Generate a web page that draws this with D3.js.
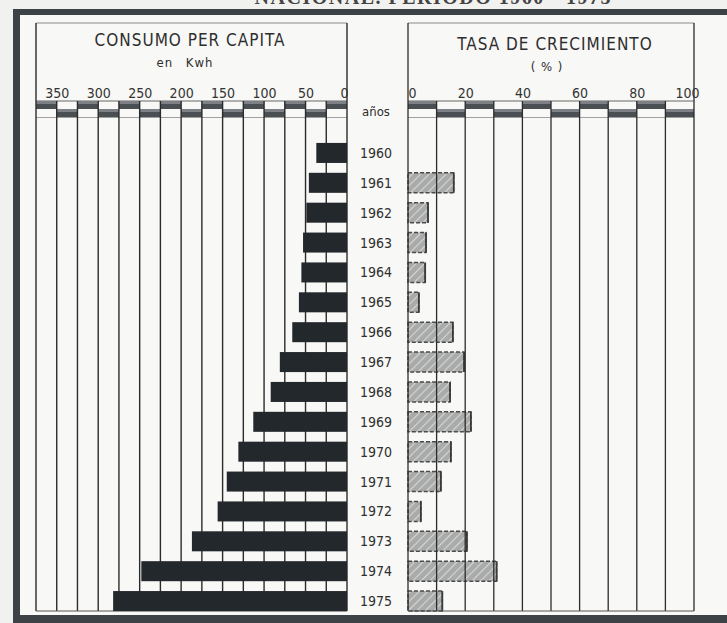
<!DOCTYPE html>
<html>
<head>
<meta charset="utf-8">
<script src="https://cdn.jsdelivr.net/npm/d3@7"></script>
<style>
  html, body { margin: 0; padding: 0; background: #f1f1ef; }
  svg { display: block; }
  text { font-family: "Liberation Sans Narrow", "DejaVu Sans Condensed", "Roboto", sans-serif; fill: #2e2e2e; }
</style>
</head>
<body>
<script>
// ---- data ----
const years = [1960, 1961, 1962, 1963, 1964, 1965, 1966, 1967, 1968, 1969, 1970, 1971, 1972, 1973, 1974, 1975];
const consumo = [37, 46, 49, 53, 55, 58, 66, 81, 92, 113, 131, 145, 156, 187, 248, 282];
const tasa = [0, 16, 7, 6.3, 6, 3.8, 15.7, 19.6, 14.7, 22, 15, 11.5, 4.5, 20.6, 31, 12];
const consumoTicks = [350, 300, 250, 200, 150, 100, 50, 0];
const tasaTicks = [0, 20, 40, 60, 80, 100];
const consumoGrid = d3.range(0, 376, 25);
const tasaGrid = d3.range(0, 101, 10);

const W = 727, H = 623;
const svg = d3.select("body").append("svg").attr("width", W).attr("height", H);

// hatch pattern for growth-rate bars
const defs = svg.append("defs");
const pat = defs.append("pattern").attr("id", "hatch").attr("patternUnits", "userSpaceOnUse")
  .attr("width", 6).attr("height", 6).attr("patternTransform", "rotate(45)");
pat.append("rect").attr("width", 6).attr("height", 6).attr("fill", "#a9aaaa");
pat.append("line").attr("x1", 0).attr("y1", 0).attr("x2", 0).attr("y2", 6)
  .attr("stroke", "#d6d6d4").attr("stroke-width", 2.2);

// page background / frame
svg.append("rect").attr("x", 0).attr("y", 0).attr("width", W).attr("height", H).attr("fill", "#f1f1ef");
svg.append("rect").attr("x", 20).attr("y", 15).attr("width", W - 20).attr("height", 600).attr("fill", "#f8f8f6");
// cut-off main title at top
svg.append("text").attr("x", 612).attr("y", 4).attr("text-anchor", "end")
  .style("font-family", "Liberation Serif, DejaVu Serif, serif").style("font-weight", "bold")
  .style("font-size", "20px").style("letter-spacing", "1.5px").style("fill", "#444")
  .text("NACIONAL.   PERIODO  1960 - 1975");
svg.append("rect").attr("x", 13).attr("y", 9).attr("width", W - 13).attr("height", 6).attr("fill", "#3d4247");
svg.append("rect").attr("x", 13).attr("y", 9).attr("width", 7).attr("height", H - 9).attr("fill", "#3d4247");
svg.append("rect").attr("x", 13).attr("y", 615).attr("width", W - 13).attr("height", 8).attr("fill", "#3d4247");

// scales
const y = d3.scaleBand().domain(years).range([138, 616]).paddingInner(0.33).paddingOuter(0.165);
const xL = d3.scaleLinear().domain([0, 375]).range([347, 36]);
const xR = d3.scaleLinear().domain([0, 100]).range([408, 694]);

const panelTop = 23, bandTop = 101, bandMid = 109, bandBot = 117, panelBot = 611;

function panel(x, grid, highEven) {
  const g = svg.append("g");
  const x0 = x.range()[0], x1 = x.range()[1];
  const left = Math.min(x0, x1), right = Math.max(x0, x1);
  g.append("line").attr("x1", left).attr("x2", right).attr("y1", panelTop).attr("y2", panelTop)
    .attr("stroke", "#8a8a8a").attr("stroke-width", 1.2);
  g.append("line").attr("x1", left).attr("x2", right).attr("y1", bandTop).attr("y2", bandTop)
    .attr("stroke", "#666").attr("stroke-width", 1);
  g.append("line").attr("x1", left).attr("x2", right).attr("y1", bandBot + 0.5).attr("y2", bandBot + 0.5)
    .attr("stroke", "#a0a0a0").attr("stroke-width", 1.2);
  const segs = d3.pairs(grid);
  g.selectAll("rect.seg").data(segs).join("rect")
    .attr("x", d => Math.min(x(d[0]), x(d[1])))
    .attr("width", d => Math.abs(x(d[1]) - x(d[0])))
    .attr("y", (d, i) => (i % 2 === 0) === highEven ? bandTop : bandMid)
    .attr("height", bandMid - bandTop)
    .attr("fill", "#4a4f53");
  g.selectAll("rect.segl").data(segs).join("rect")
    .attr("x", d => Math.min(x(d[0]), x(d[1])))
    .attr("width", d => Math.abs(x(d[1]) - x(d[0])))
    .attr("y", (d, i) => (i % 2 === 0) === highEven ? bandTop : bandMid)
    .attr("height", 3)
    .attr("fill", "#7d8185");
  return g;
}

const gl = panel(xL, consumoGrid, true);
const gr = panel(xR, tasaGrid, true);

// left gridlines
gl.selectAll("line.grid").data(consumoGrid).join("line")
  .attr("x1", d => xL(d)).attr("x2", d => xL(d))
  .attr("y1", d => (d === 0 || d === 375) ? panelTop : bandTop).attr("y2", panelBot)
  .attr("stroke", "#2b2b2b").attr("stroke-width", 1.4);
gl.append("line").attr("x1", xL(375)).attr("x2", xL(0)).attr("y1", panelBot).attr("y2", panelBot)
  .attr("stroke", "#555").attr("stroke-width", 1.2);

// left bars
gl.selectAll("rect.bar").data(years).join("rect")
  .attr("x", (d, i) => xL(consumo[i]))
  .attr("width", (d, i) => xL(0) - xL(consumo[i]))
  .attr("y", d => y(d)).attr("height", y.bandwidth())
  .attr("fill", "#23282c");

// right bars (under gridlines)
const rb = gr.append("g");
years.forEach((yr, i) => {
  if (tasa[i] <= 0) return;
  rb.append("rect").attr("x", xR(0)).attr("y", y(yr))
    .attr("width", xR(tasa[i]) - xR(0)).attr("height", y.bandwidth())
    .attr("fill", "url(#hatch)").attr("stroke", "#4b4b4b").attr("stroke-width", 1.4)
    .attr("stroke-dasharray", "4,2");
  rb.append("line").attr("x1", xR(tasa[i])).attr("x2", xR(tasa[i]))
    .attr("y1", y(yr)).attr("y2", y(yr) + y.bandwidth())
    .attr("stroke", "#3a3a3a").attr("stroke-width", 1.8);
});

// right gridlines
gr.selectAll("line.grid").data(tasaGrid).join("line")
  .attr("x1", d => xR(d)).attr("x2", d => xR(d))
  .attr("y1", d => (d === 0 || d === 100) ? panelTop : bandTop).attr("y2", panelBot)
  .attr("stroke", "#2b2b2b").attr("stroke-width", 1.3);
gr.append("line").attr("x1", xR(0)).attr("x2", xR(100)).attr("y1", panelBot).attr("y2", panelBot)
  .attr("stroke", "#555").attr("stroke-width", 1.2);

// axes (tick labels)
const axL = svg.append("g").attr("transform", `translate(0,${bandTop - 3})`)
  .call(d3.axisTop(xL).tickValues(consumoTicks).tickSize(0).tickPadding(0));
axL.select(".domain").remove();
axL.selectAll("text").style("font-size", "14px").style("fill", "#333")
  .attr("dx", d => d === 0 ? -3 : 0);

const axR = svg.append("g").attr("transform", `translate(0,${bandTop - 3})`)
  .call(d3.axisTop(xR).tickValues(tasaTicks).tickSize(0).tickPadding(0));
axR.select(".domain").remove();
axR.selectAll("text").style("font-size", "14px").style("fill", "#333")
  .attr("dx", d => d === 0 ? 4 : (d === 100 ? -7 : 0));

// titles
svg.append("text").attr("x", 190).attr("y", 46).attr("text-anchor", "middle")
  .style("font-size", "17px").style("letter-spacing", "1px").text("CONSUMO PER CAPITA");
svg.append("text").attr("x", 185).attr("y", 67).attr("text-anchor", "middle")
  .style("font-size", "13px").style("word-spacing", "8px").style("letter-spacing", "1px").text("en Kwh");
svg.append("text").attr("x", 555).attr("y", 50).attr("text-anchor", "middle")
  .style("font-size", "17px").style("letter-spacing", "1px").text("TASA DE CRECIMIENTO");
svg.append("text").attr("x", 547).attr("y", 71).attr("text-anchor", "middle")
  .style("font-size", "13px").style("letter-spacing", "1px").text("( % )");

// year labels
svg.append("text").attr("x", 376).attr("y", 116).attr("text-anchor", "middle")
  .style("font-size", "13px").text("años");
svg.selectAll("text.yr").data(years).join("text").attr("class", "yr")
  .attr("x", 376).attr("y", d => y(d) + y.bandwidth() / 2 + 5)
  .attr("text-anchor", "middle").style("font-size", "14px").text(d => d);
</script>
</body>
</html>
